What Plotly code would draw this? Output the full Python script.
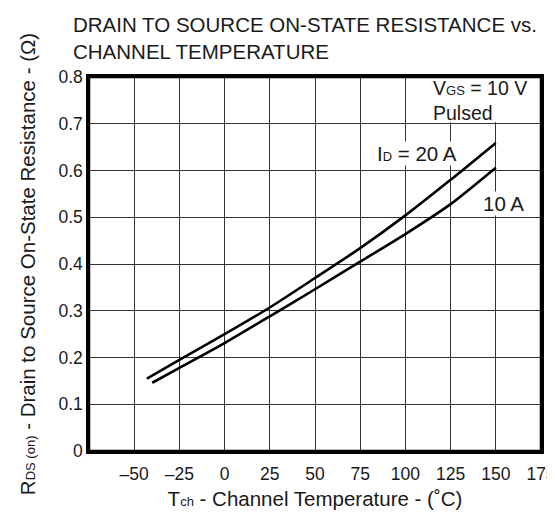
import plotly.graph_objects as go

# Data
temp_20A = [-43, -25, 0, 25, 50, 75, 100, 125, 150]
rds_20A = [0.155, 0.195, 0.250, 0.307, 0.370, 0.434, 0.504, 0.580, 0.659]
temp_10A = [-40, -25, 0, 25, 50, 75, 100, 125, 150]
rds_10A = [0.146, 0.178, 0.231, 0.288, 0.346, 0.405, 0.464, 0.528, 0.606]

x_tickvals = [-50, -25, 0, 25, 50, 75, 100, 125, 150, 175]
x_ticktext = ["–50", "–25", "0", "25", "50", "75", "100", "125", "150", "175"]
y_tickvals = [0, 0.1, 0.2, 0.3, 0.4, 0.5, 0.6, 0.7, 0.8]
y_ticktext = ["0", "0.1", "0.2", "0.3", "0.4", "0.5", "0.6", "0.7", "0.8"]

FONT = "Liberation Sans, Arial, sans-serif"
TXT = "#1a1a1a"
SUB = "font-size:13px"
TS = 20.5  # title / label size
KS = 17.5  # tick size

fig = go.Figure()
for t, r in [(temp_20A, rds_20A), (temp_10A, rds_10A)]:
    fig.add_trace(go.Scatter(x=t, y=r, mode="lines",
                             line=dict(color="black", width=2.6, shape="spline", smoothing=0.6),
                             showlegend=False, hoverinfo="skip"))

fig.update_layout(
    width=555, height=512,
    margin=dict(l=81, r=22, t=69, b=69, autoexpand=False),
    paper_bgcolor="white", plot_bgcolor="white",
    font=dict(family=FONT, size=KS, color=TXT),
)

fig.update_xaxes(range=[-75, 175], tickvals=x_tickvals, ticktext=x_ticktext,
                 showgrid=True, gridcolor="#333", gridwidth=1,
                 showline=True, linecolor="black", linewidth=2.5, mirror=True,
                 ticks="", ticklabelstandoff=5, zeroline=False, automargin=False,
                 tickfont=dict(size=KS),
                 title=dict(text=f"T<span style='{SUB}'>ch</span> - Channel Temperature - (˚C)",
                            font=dict(size=TS), standoff=9))
fig.update_yaxes(range=[0, 0.8], tickvals=y_tickvals, ticktext=y_ticktext,
                 showgrid=True, gridcolor="#333", gridwidth=1,
                 showline=True, linecolor="black", linewidth=2.5, mirror=True,
                 ticks="", zeroline=False, automargin=False, tickfont=dict(size=KS),
                 title=dict(text=f"R<span style='{SUB}'>DS (on)</span> - Drain to Source On-State Resistance - (Ω)",
                            font=dict(size=TS), standoff=18))

# chart title (two lines, left aligned above the plot)
fig.add_annotation(xref="paper", yref="paper", x=(63 - 81) / 452, y=(443 - 3) / 374,
                   xanchor="left", yanchor="top", align="left", showarrow=False,
                   text="DRAIN TO SOURCE ON-STATE RESISTANCE vs.<br>CHANNEL TEMPERATURE",
                   font=dict(size=TS, color=TXT))

# white panel behind the condition label
fig.add_shape(type="rect", xref="x", yref="y", x0=101, x1=175, y0=0.703, y1=0.8,
              fillcolor="white", line=dict(width=0), layer="above")
# redraw border over the panel edge
fig.add_shape(type="rect", xref="x domain", yref="y domain", x0=0, x1=1, y0=0, y1=1,
              line=dict(color="black", width=2.5), layer="above")

fig.add_annotation(x=114, y=0.8, xref="x", yref="y", xanchor="left", yanchor="top",
                   yshift=2, align="left", showarrow=False,
                   text=f"V<span style='{SUB}'>GS</span> = 10 V<br>Pulsed",
                   font=dict(size=19.5, color=TXT))
fig.add_annotation(x=83.5, y=0.637, xref="x", yref="y", xanchor="left", yanchor="middle",
                   showarrow=False, bgcolor="white", borderpad=0,
                   text=f"I<span style='{SUB}'>D</span> = 20 A",
                   font=dict(size=TS, color=TXT))
fig.add_annotation(x=142.5, y=0.530, xref="x", yref="y", xanchor="left", yanchor="middle",
                   showarrow=False, bgcolor="white", borderpad=0,
                   text="10 A", font=dict(size=TS, color=TXT))

fig.write_html("out.html")
